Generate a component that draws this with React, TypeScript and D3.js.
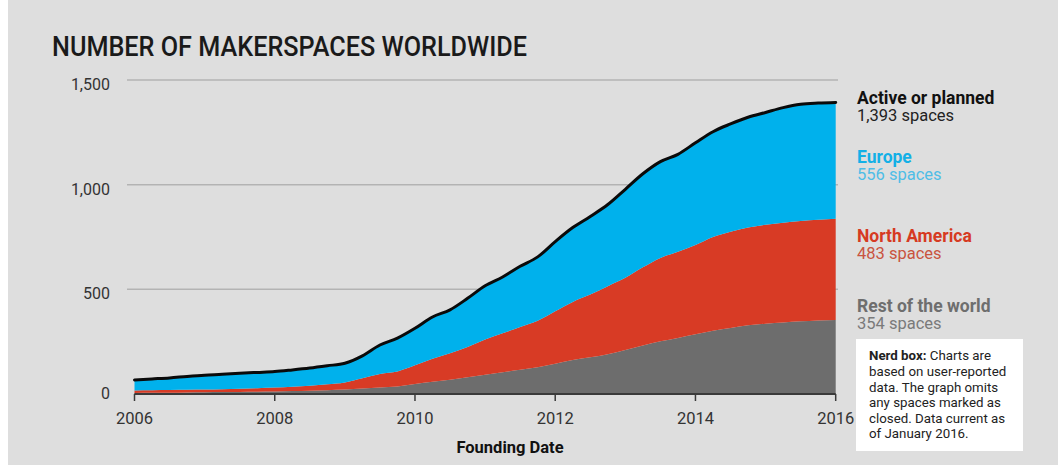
import * as d3 from "d3";

// quarterly founding-date samples
const years = [
  2006, 2006.25, 2006.5, 2006.75, 2007, 2007.25, 2007.5, 2007.75,
  2008, 2008.25, 2008.5, 2008.75, 2009, 2009.25, 2009.5, 2009.75,
  2010, 2010.25, 2010.5, 2010.75, 2011, 2011.25, 2011.5, 2011.75,
  2012, 2012.25, 2012.5, 2012.75, 2013, 2013.25, 2013.5, 2013.75,
  2014, 2014.25, 2014.5, 2014.75, 2015, 2015.25, 2015.5, 2015.75, 2016,
];

const rest = [
  5, 6, 6, 7, 8, 9, 10, 11, 12, 14, 16, 18, 21, 26, 31, 36,
  48, 58, 68, 80, 92, 104, 116, 128, 145, 162, 175, 190, 210, 232, 252, 268,
  285, 302, 315, 328, 336, 342, 347, 351, 354,
];

const northAmerica = [
  12, 12, 13, 13, 13, 14, 15, 17, 19, 21, 24, 28, 34, 49, 65, 72,
  89, 110, 127, 145, 168, 186, 204, 222, 250, 278, 300, 325, 345, 373, 398, 412,
  427, 448, 460, 467, 472, 476, 479, 481, 483,
];

const europe = [
  50, 54, 58, 64, 69, 71, 74, 75, 76, 80, 84, 89, 92, 107, 138, 159,
  177, 200, 207, 232, 257, 269, 290, 305, 333, 355, 373, 390, 423, 447, 460, 465,
  488, 503, 515, 527, 537, 550, 558, 558, 556,
];

const yTicks = [0, 500, 1000, 1500];
const xTicks = [2006, 2008, 2010, 2012, 2014, 2016];

const legend = [
  { name: "Active or planned", count: "1,393 spaces", color: "#111", sub: "#222", y: 99 },
  { name: "Europe", count: "556 spaces", color: "#13b0e6", sub: "#4fbde6", y: 158 },
  { name: "North America", count: "483 spaces", color: "#d63a22", sub: "#c9543f", y: 237 },
  { name: "Rest of the world", count: "354 spaces", color: "#6e6e6e", sub: "#7a7a7a", y: 307 },
];

const nerdLines = [
  "based on user-reported",
  "data. The graph omits",
  "any spaces marked as",
  "closed. Data current as",
  "of January 2016.",
];

const W = 1058;
const H = 465;
const font = "Roboto, 'DejaVu Sans', sans-serif";

const keys = ["rest", "northAmerica", "europe"] as const;
const colors: Record<string, string> = {
  rest: "#6d6d6d",
  northAmerica: "#d83b25",
  europe: "#00b1ec",
};

export default function App() {
  const x = d3.scaleLinear().domain([2006, 2016]).range([134.5, 835.7]);
  const y = d3.scaleLinear().domain([0, 1500]).range([394, 80]);

  const rows = years.map((yr, i) => ({
    year: yr,
    rest: rest[i],
    northAmerica: northAmerica[i],
    europe: europe[i],
  }));

  const series = d3.stack<any>().keys(keys as unknown as string[])(rows);

  const area = d3
    .area<any>()
    .x((d) => x(d.data.year))
    .y0((d) => y(d[0]))
    .y1((d) => y(d[1]))
    .curve(d3.curveMonotoneX);

  const topLine = d3
    .line<any>()
    .x((d) => x(d.data.year))
    .y((d) => y(d[1]))
    .curve(d3.curveMonotoneX);

  return (
    <svg
      width={W}
      height={H}
      style={{ position: "absolute", left: 0, top: 0, fontFamily: font }}
    >
      <rect width={W} height={H} fill="#dedede" />
      <rect width={8} height={H} fill="#ffffff" />

      <text
        x={52}
        y={56}
        fontSize={27}
        fontWeight={500}
        fill="#1a1a1a"
        textLength={475}
        lengthAdjust="spacingAndGlyphs"
      >
        NUMBER OF MAKERSPACES WORLDWIDE
      </text>

      {/* gridlines */}
      {yTicks
        .filter((t) => t > 0)
        .map((t) => (
          <line
            key={t}
            x1={127}
            x2={838}
            y1={y(t)}
            y2={y(t)}
            stroke="#b3b3b3"
            strokeWidth={1.5}
          />
        ))}

      {yTicks.map((t) => (
        <text
          key={t}
          x={110}
          y={y(t) + (t === 0 ? 5 : 10)}
          textAnchor="end"
          fontSize={16}
          fill="#333"
        >
          {d3.format(",")(t)}
        </text>
      ))}

      {series.map((s) => (
        <path key={s.key} d={area(s) ?? ""} fill={colors[s.key]} />
      ))}

      <path
        d={topLine(series[series.length - 1]) ?? ""}
        fill="none"
        stroke="#0a0a0a"
        strokeWidth={3}
        strokeLinejoin="round"
        strokeLinecap="round"
      />

      {/* x axis */}
      <line x1={x(2006)} x2={x(2016)} y1={394} y2={394} stroke="#3a3a3a" strokeWidth={2} />
      {xTicks.map((t) => (
        <g key={t} transform={`translate(${x(t)},0)`}>
          <line y1={394} y2={401} stroke="#3a3a3a" strokeWidth={1.5} />
          <text y={424} textAnchor="middle" fontSize={16.5} fill="#333">
            {t}
          </text>
        </g>
      ))}
      <text
        x={510}
        y={453}
        textAnchor="middle"
        fontSize={16.5}
        fontWeight={700}
        fill="#111"
      >
        Founding Date
      </text>

      {/* legend */}
      {legend.map((l) => (
        <g key={l.name}>
          <text x={857} y={l.y + 5} fontSize={17.5} fontWeight={700} fill={l.color}>
            {l.name}
          </text>
          <text x={857} y={l.y + 22} fontSize={16.5} fill={l.sub}>
            {l.count}
          </text>
        </g>
      ))}

      {/* nerd box */}
      <rect x={856} y={339} width={167} height={112} fill="#ffffff" />
      <text x={869} y={360} fontSize={13.3} fill="#222">
        <tspan fontWeight={700}>Nerd box:</tspan> Charts are
      </text>
      {nerdLines.map((l, i) => (
        <text key={i} x={869} y={376 + i * 15.5} fontSize={13.3} fill="#222">
          {l}
        </text>
      ))}
    </svg>
  );
}
